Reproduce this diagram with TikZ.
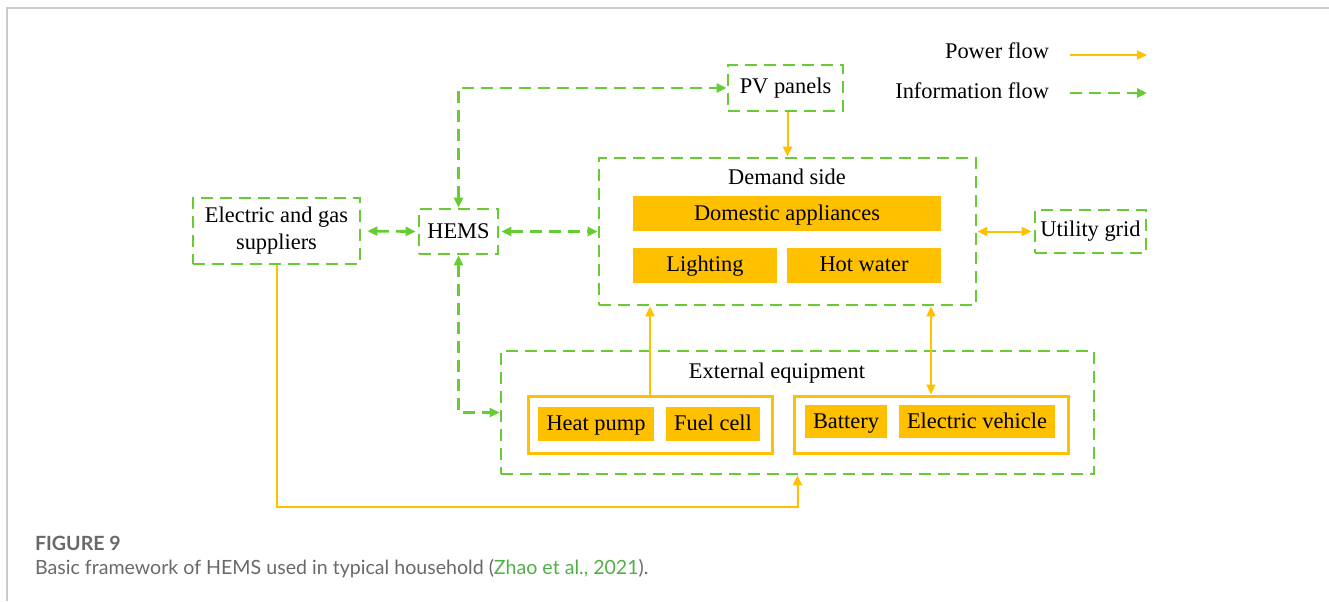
\documentclass[tikz,border=0pt]{standalone}
\usepackage{fontspec}
\setmainfont{Liberation Serif}
\newfontfamily\capfont{Lato}
\usetikzlibrary{arrows.meta,positioning}
\definecolor{lgreen}{RGB}{102,204,51}
\definecolor{lyellow}{RGB}{255,192,0}
\definecolor{capgrey}{RGB}{105,105,105}
\definecolor{citegreen}{RGB}{80,175,70}

\begin{document}
\begin{tikzpicture}[x=0.5pt,y=-0.5pt,
  txt/.style={font=\fontsize{11.2}{13.4}\selectfont},
  dbox/.style={draw=lgreen,line width=1.4pt,dash pattern=on 6pt off 3.5pt,txt,inner sep=0pt,align=center},
  fbox/.style={fill=lyellow,txt,inner sep=0pt,text height=8.4pt,text depth=1.8pt},
  gbox/.style={draw=lyellow,line width=1.5pt,inner sep=0pt},
  info/.style={lgreen,line width=1.4pt,dash pattern=on 6pt off 3.5pt,-{Triangle[length=5pt,width=4.5pt]}},
  power/.style={lyellow,line width=1pt,-{Triangle[length=5pt,width=4.5pt]}}]
\useasboundingbox (0,0) rectangle (1329,601);
\draw[gray!40,line width=0.75pt] (7,601) -- (7,8) -- (1329,8);

\node[dbox,minimum width=83.5pt,minimum height=33pt] (elec) at (276.5,231) {Electric and gas\\suppliers};
\node[dbox,minimum width=39.5pt,minimum height=22.5pt] (hems) at (458.5,231.5) {HEMS};
\node[dbox,minimum width=57.5pt,minimum height=23pt] (pv) at (785.5,88) {PV panels};
\node[dbox,minimum width=188.5pt,minimum height=73.5pt] (demand) at (787.5,231.5) {};
\node[txt] (dlab) at (787,177) {Demand side};
\node[fbox,minimum width=154pt,minimum height=17.5pt] (dom) at (787,213.5) {Domestic appliances};
\node[fbox,minimum width=72pt,minimum height=17.5pt] (light) at (705,265) {Lighting};
\node[fbox,minimum width=77pt,minimum height=17.5pt] (hot) at (864,265) {Hot water};
\node[dbox,minimum width=55.5pt,minimum height=21.5pt] (grid) at (1090.5,231.5) {Utility grid};

\node[dbox,minimum width=296.5pt,minimum height=61.5pt] (ext) at (797.5,412.5) {};
\node[txt] (elab) at (777,373) {External equipment};
\node[gbox,minimum width=122pt,minimum height=28.5pt] (grpa) at (650,424.5) {};
\node[fbox,minimum width=58pt,minimum height=17pt] (heat) at (596,424) {Heat pump};
\node[fbox,minimum width=47pt,minimum height=17pt] (fuel) at (713,424) {Fuel cell};
\node[gbox,minimum width=137pt,minimum height=28.5pt] (grpb) at (931,424.5) {};
\node[fbox,minimum width=41pt,minimum height=16.5pt] (batt) at (846,421.5) {Battery};
\node[fbox,minimum width=78pt,minimum height=16.5pt] (ev) at (977,421.5) {Electric vehicle};

\draw[info,{Triangle[length=5pt,width=4.5pt]}-{Triangle[length=5pt,width=4.5pt]},shorten <=3pt,shorten >=1pt] (elec.east) -- (hems.west);
\draw[info,{Triangle[length=5pt,width=4.5pt]}-{Triangle[length=5pt,width=4.5pt]},shorten <=1pt] (hems.east) -- (demand.west);
\draw[info,{Triangle[length=5pt,width=4.5pt]}-{Triangle[length=5pt,width=4.5pt]}] (hems.north) |- (pv.west);
\draw[info,{Triangle[length=5pt,width=4.5pt]}-{Triangle[length=5pt,width=4.5pt]}] (hems.south) |- (ext.west);

\draw[power] ([xshift=1pt]pv.south) -- ([xshift=1pt]pv.south |- demand.north);
\draw[power,{Triangle[length=5pt,width=4.5pt]}-{Triangle[length=5pt,width=4.5pt]},shorten >=1pt] (demand.east) -- (grid.west);
\draw[power] (grpa.north) -- (grpa.north |- demand.south);
\draw[power,{Triangle[length=5pt,width=4.5pt]}-{Triangle[length=5pt,width=4.5pt]}] (demand.south -| grpb.north) -- (grpb.north);
\coordinate (low) at (797.5,507);
\draw[power] (elec.south) |- (low) -- (ext.south);

\node[txt,anchor=east] (pwr) at (1056,51) {Power flow};
\node[txt,anchor=east] (inf) at (1056,91) {Information flow};
\coordinate (pwrend) at (1147,55);
\coordinate (infend) at (1147,93);
\draw[power] ([xshift=7pt]pwr.east |- pwrend) -- (pwrend);
\draw[info] ([xshift=7pt]inf.east |- infend) -- (infend);

\node[anchor=west,text=capgrey,font=\capfont\bfseries\fontsize{9.8}{12}\selectfont] (fig) at (28,543) {FIGURE 9};
\node[anchor=west,text=capgrey,font=\capfont\fontsize{9.8}{12}\selectfont] (cap) at (28,569) {Basic framework of HEMS used in typical household (\textcolor{citegreen}{Zhao et al., 2021}).};
\end{tikzpicture}
\end{document}
